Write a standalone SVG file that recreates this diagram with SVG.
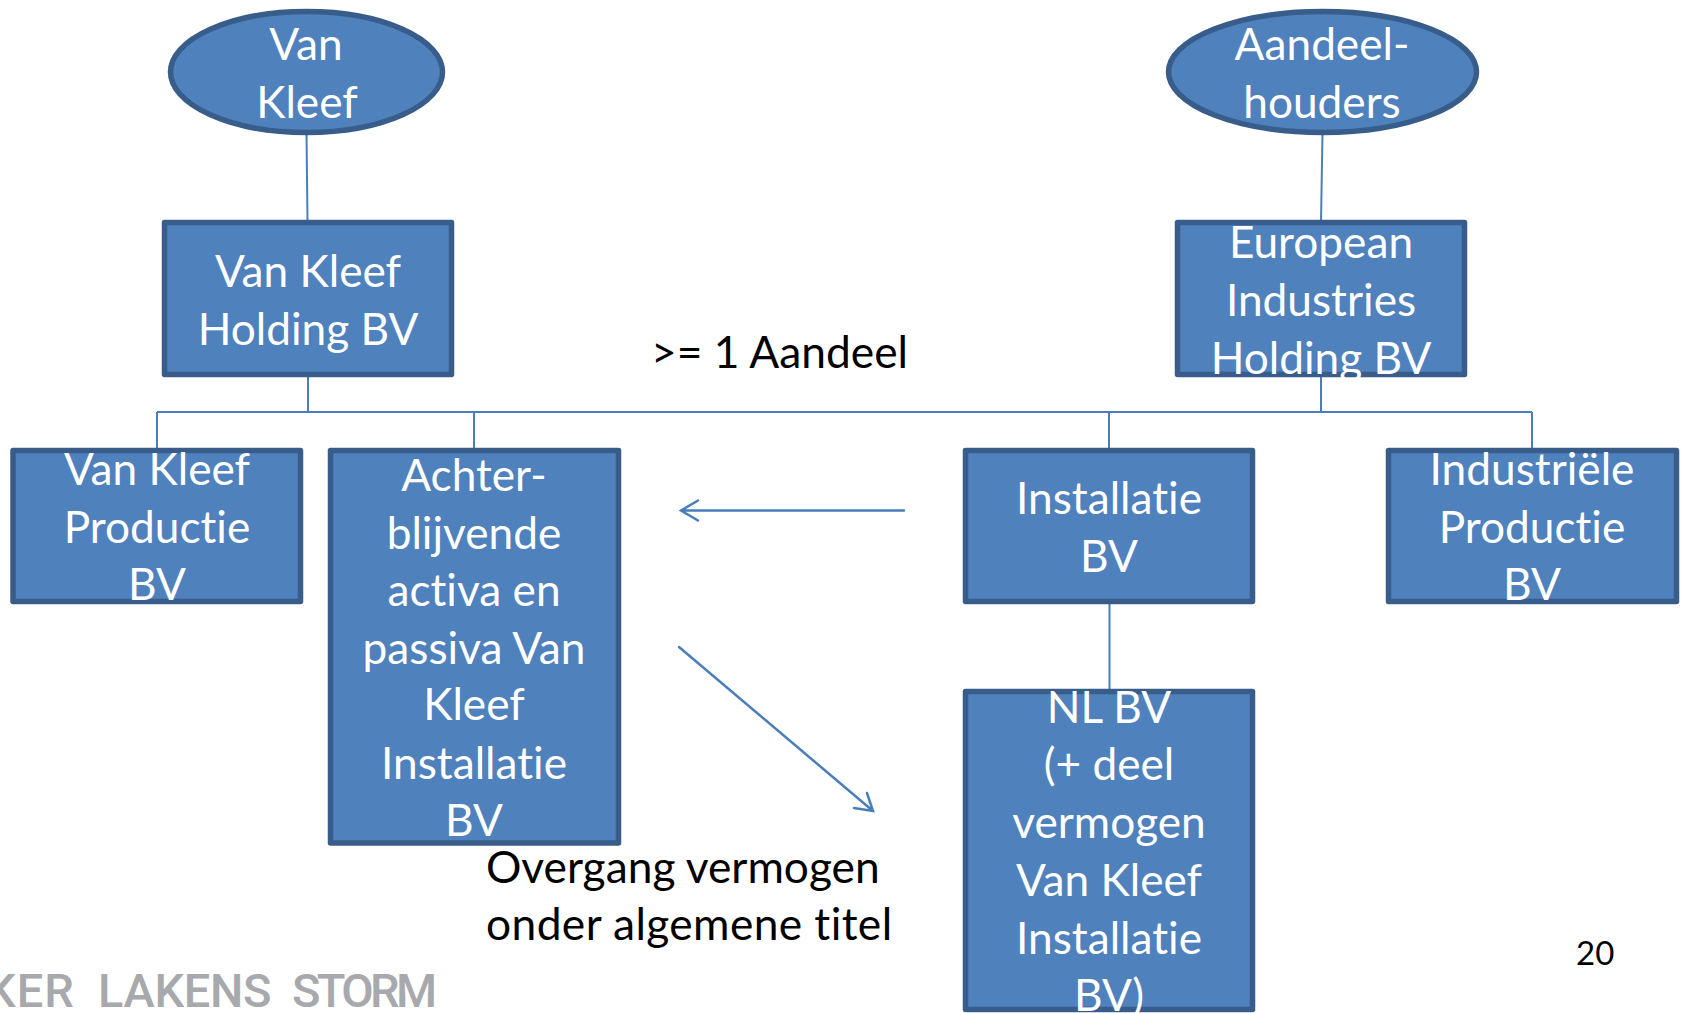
<svg xmlns="http://www.w3.org/2000/svg" width="1681" height="1013" viewBox="0 0 1681 1013">
<style>
.n{fill:#4f81bd;stroke:#385d8a;stroke-width:5.500;stroke-linejoin:round}
.l{font-family:Lato,"Liberation Sans",sans-serif;font-size:44.200px;fill:#fff;text-anchor:middle;font-variant-ligatures:none}
.t{font-family:Lato,"Liberation Sans",sans-serif;font-size:44.300px;fill:#000;font-variant-ligatures:none}
.c{fill:none;stroke:#4a7ebb;stroke-width:2}
.a{fill:none;stroke:#4a7ebb;stroke-width:2.500;stroke-linecap:round}
</style>
<rect width="1681" height="1013" fill="#fff"/>
<g id="connectors">
<path class="c" d="M306.500 133L307.500 222M1322.500 133L1321 222M308 376V412M1321 376V412M157 412H1532M157 412V448M474 412V448M1109 412V448M1532 412V448M1109.500 604V689"/>
<path class="a" d="M904 510.500H681M698 500.500L681 510.500L698 520.500M679 647L873 811M867 793L873 811L854 808"/>
</g>
<g id="van-kleef"><ellipse class="n" cx="306.500" cy="72" rx="136" ry="60.500"/><text class="l"><tspan x="306" y="60">Van</tspan><tspan x="307" y="118">Kleef</tspan></text></g>
<g id="aandeelhouders"><ellipse class="n" cx="1322.500" cy="72" rx="154" ry="60.500"/><text class="l"><tspan x="1322" y="60">Aandeel-</tspan><tspan x="1322" y="118">houders</tspan></text></g>
<g id="van-kleef-holding"><rect class="n" x="164.500" y="222.500" width="287" height="152"/><text class="l"><tspan x="308" y="287">Van Kleef</tspan><tspan x="308" y="345">Holding BV</tspan></text></g>
<g id="european-industries"><rect class="n" x="1177.500" y="222.500" width="287" height="152"/><text class="l"><tspan x="1321" y="258">European</tspan><tspan x="1321" y="316">Industries</tspan><tspan x="1321" y="374">Holding BV</tspan></text></g>
<g id="van-kleef-productie"><rect class="n" x="13" y="450.500" width="287.500" height="151"/><text class="l"><tspan x="157" y="485">Van Kleef</tspan><tspan x="157" y="543">Productie</tspan><tspan x="157" y="600">BV</tspan></text></g>
<g id="achterblijvende"><rect class="n" x="330.500" y="450.500" width="288" height="392.500"/><text class="l"><tspan x="474" y="491">Achter-</tspan><tspan x="474" y="549">blijvende</tspan><tspan x="474" y="606">activa en</tspan><tspan x="474" y="664">passiva Van</tspan><tspan x="474" y="720">Kleef</tspan><tspan x="474" y="779">Installatie</tspan><tspan x="474" y="836">BV</tspan></text></g>
<g id="installatie"><rect class="n" x="965.500" y="450.500" width="287" height="151"/><text class="l"><tspan x="1109" y="514">Installatie</tspan><tspan x="1109" y="572">BV</tspan></text></g>
<g id="industriele"><rect class="n" x="1388.500" y="450.500" width="288" height="151"/><text class="l"><tspan x="1532" y="485">Industriële</tspan><tspan x="1532" y="543">Productie</tspan><tspan x="1532" y="600">BV</tspan></text></g>
<g id="nl-bv"><rect class="n" x="965.500" y="691.500" width="287" height="318"/><text class="l"><tspan x="1109" y="723">NL BV</tspan><tspan x="1109" y="780">(+ deel</tspan><tspan x="1109" y="838">vermogen</tspan><tspan x="1109" y="896">Van Kleef</tspan><tspan x="1109" y="954">Installatie</tspan><tspan x="1109" y="1011">BV)</tspan></text></g>
<text class="t" x="651" y="368">&gt;= 1 Aandeel</text>
<text class="t"><tspan x="486" y="883">Overgang vermogen</tspan><tspan x="486" y="940" letter-spacing="0.400">onder algemene titel</tspan></text>
<text x="1576" y="965" font-family="Lato,'Liberation Sans',sans-serif" font-size="33" fill="#000">20</text>
<text y="1007" font-family="Roboto,'Liberation Sans',sans-serif" font-size="47" font-weight="500" fill="#a7a9ac"><tspan x="-14" letter-spacing="1">KER</tspan><tspan x="98" letter-spacing="-0.300">LAKENS</tspan><tspan x="292" letter-spacing="-3.600">STORM</tspan></text>
</svg>
